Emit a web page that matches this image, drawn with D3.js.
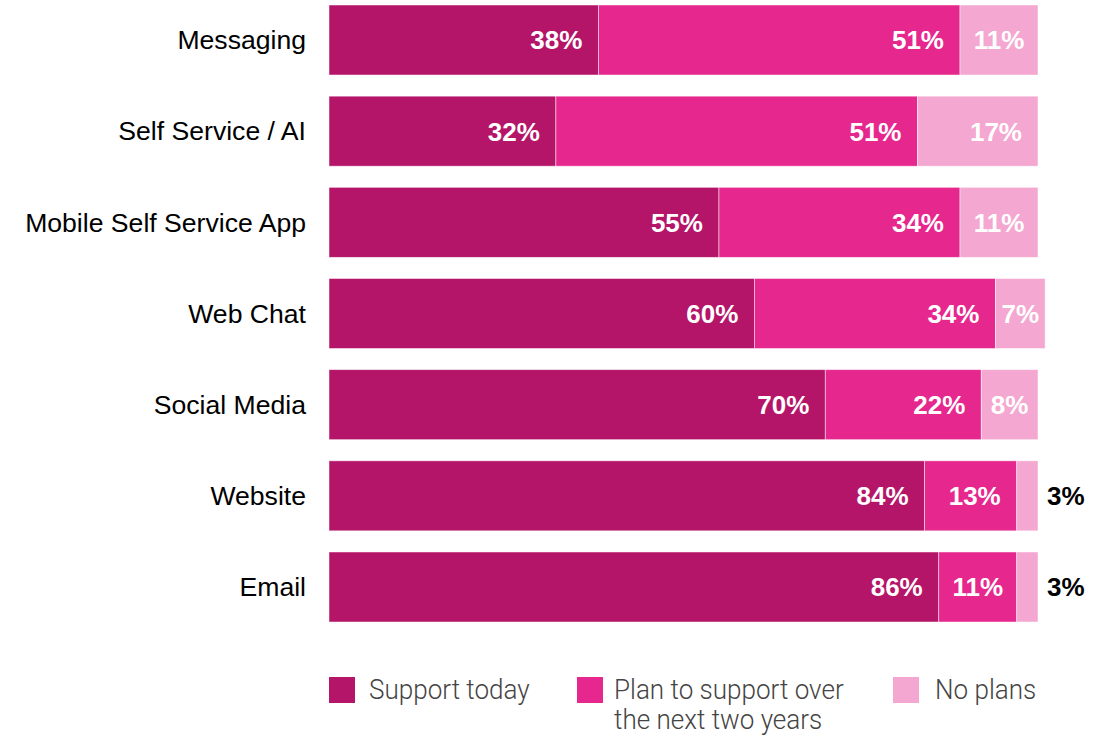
<!DOCTYPE html>
<html>
<head>
<meta charset="utf-8">
<script src="https://cdn.jsdelivr.net/npm/d3@7"></script>
<style>
  body { margin: 0; background: #fff; }
  svg { display: block; }
</style>
</head>
<body>
<div id="chart"></div>
<script>
(function() {

  var categories = ["Messaging", "Self Service / AI", "Mobile Self Service App", "Web Chat", "Social Media", "Website", "Email"];
  var supportToday = [38, 32, 55, 60, 70, 84, 86];
  var planToSupport = [51, 51, 34, 34, 22, 13, 11];
  var noPlans = [11, 17, 11, 7, 8, 3, 3];
  var seriesNames = ["Support today", "Plan to support over the next two years", "No plans"];
  var colors = ["#b51568", "#e6278d", "#f4a7d0"];

  var width = 1110,
      height = 736;

  var rows = categories.map(function(c, i) {
    return { category: c, values: [supportToday[i], planToSupport[i], noPlans[i]] };
  });

  var x = d3.scaleLinear()
      .domain([0, 100])
      .range([329, 1038]);

  var y = d3.scaleBand()
      .domain(categories)
      .range([5, 622])
      .paddingInner(0.232)
      .paddingOuter(0);

  var svg = d3.select("#chart").append("svg")
      .attr("width", width)
      .attr("height", height);

  var row = svg.selectAll("g.row")
      .data(rows)
    .enter().append("g")
      .attr("class", "row")
      .attr("transform", function(d) { return "translate(0," + y(d.category) + ")"; });

  row.append("text")
      .attr("x", 306)
      .attr("y", y.bandwidth() / 2)
      .attr("dy", "0.35em")
      .attr("text-anchor", "end")
      .style("font-family", "Liberation Sans, Arial, sans-serif")
      .style("font-size", "26.6px")
      .style("fill", "#000")
      .text(function(d) { return d.category; });

  var seg = row.selectAll("g.seg")
      .data(function(d) {
        var acc = 0;
        return d.values.map(function(v, k) {
          var s = { start: acc, end: acc + v, value: v, k: k };
          acc += v;
          return s;
        });
      })
    .enter().append("g")
      .attr("class", "seg");

  seg.append("rect")
      .attr("x", function(d) { return x(d.start); })
      .attr("y", 0)
      .attr("width", function(d) { return x(d.end) - x(d.start); })
      .attr("height", y.bandwidth())
      .style("fill", function(d) { return colors[d.k]; })
      .style("stroke", "rgba(255,255,255,0.6)")
      .style("stroke-width", 0.8);

  seg.append("text")
      .attr("y", y.bandwidth() / 2)
      .attr("dy", "0.36em")
      .attr("text-anchor", function(d) { return d.value < 5 ? "start" : "end"; })
      .style("font-family", "Liberation Sans, Arial, sans-serif")
      .style("font-weight", "bold")
      .style("font-size", "26px")
      .style("fill", function(d) { return d.value < 5 ? "#000" : "#fff"; })
      .text(function(d) { return d.value + "%"; })
      .attr("x", function(d) {
        if (d.value < 5) return x(d.end) + 9;
        var w = x(d.end) - x(d.start),
            tw = this.getComputedTextLength();
        return x(d.end) - Math.min(16, (w - tw) / 2);
      });

  // legend
  var legendX = [329, 577, 893];
  var legendLines = [["Support today"], ["Plan to support over", "the next two years"], ["No plans"]];

  var legend = svg.selectAll("g.legend")
      .data(seriesNames)
    .enter().append("g")
      .attr("class", "legend")
      .attr("transform", function(d, i) { return "translate(" + legendX[i] + ",677)"; });

  legend.append("rect")
      .attr("width", 26)
      .attr("height", 26)
      .style("fill", function(d, i) { return colors[i]; });

  legend.append("text")
      .attr("transform", function(d, i) {
        return "translate(" + (i === 2 ? 42 : i === 1 ? 37 : 40) + ",22) scale(0.965,1)";
      })
      .style("font-family", "Roboto, sans-serif")
      .style("font-weight", 300)
      .style("font-size", "27px")
      .style("fill", "#444")
      .selectAll("tspan")
      .data(function(d, i) { return legendLines[i]; })
    .enter().append("tspan")
      .attr("x", 0)
      .attr("dy", function(d, j) { return j === 0 ? 0 : 30; })
      .text(function(d) { return d; });

})()
</script>
</body>
</html>
